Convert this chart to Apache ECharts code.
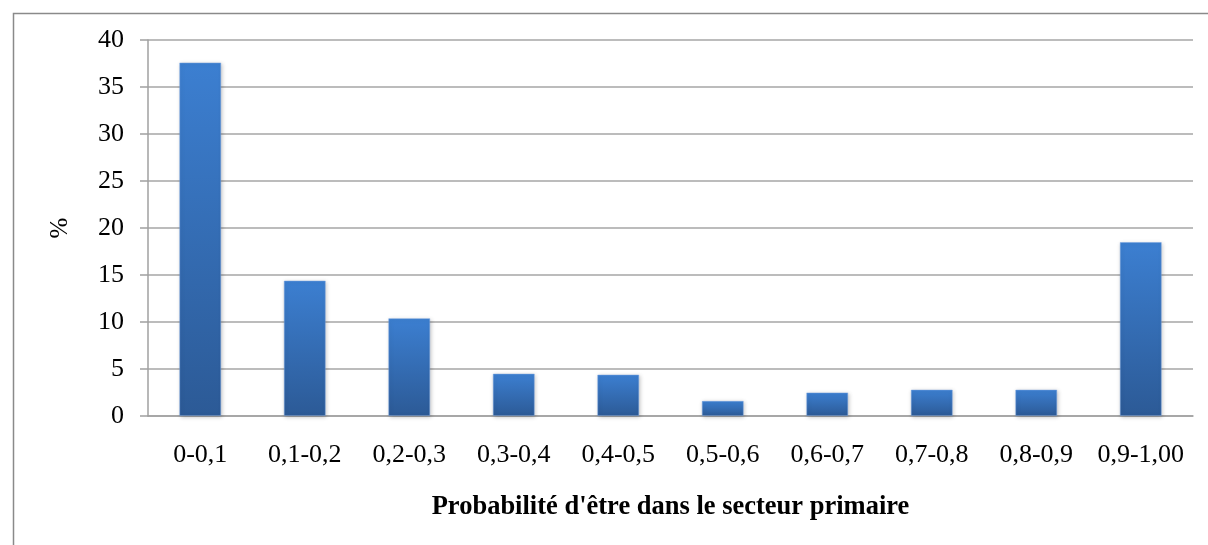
<!DOCTYPE html>
<html>
<head>
<meta charset="utf-8">
<style>
  html, body { margin: 0; padding: 0; background: #ffffff; }
  #chart { width: 1208px; height: 545px; }
</style>
<script src="https://cdn.jsdelivr.net/npm/echarts@6/dist/echarts.min.js"></script>
</head>
<body>
<div id="chart"></div>
<script>
// Probability classes of being in the primary sector
const categories = ['0-0,1', '0,1-0,2', '0,2-0,3', '0,3-0,4', '0,4-0,5', '0,5-0,6', '0,6-0,7', '0,7-0,8', '0,8-0,9', '0,9-1,00'];
// Share of the population in each class (%)
const shares = [37.6, 14.4, 10.4, 4.5, 4.4, 1.6, 2.5, 2.8, 2.8, 18.5];
const yTicks = { min: 0, max: 40, interval: 5 };

const serif = '"Liberation Serif", "Times New Roman", serif';

const chart = echarts.init(document.getElementById('chart'), null, { renderer: 'canvas' });

chart.setOption({
  animation: false,
  backgroundColor: '#ffffff',
  graphic: [{
    type: 'rect',
    left: 11,
    top: 11,
    shape: { width: 1260, height: 600 },
    style: { fill: 'none', stroke: '#8a8a8a', lineWidth: 1.5 },
    silent: true
  }],
  grid: { left: 148, right: 15, top: 40, bottom: 129, containLabel: false },
  xAxis: {
    type: 'category',
    data: categories,
    name: "Probabilité d'être dans le secteur primaire",
    nameLocation: 'middle',
    nameGap: 78,
    nameTextStyle: { fontFamily: serif, fontSize: 26.5, fontWeight: 'bold', color: '#000000' },
    axisLine: { show: true, lineStyle: { color: '#a0a0a0', width: 1.5 } },
    axisTick: { show: false },
    axisLabel: { fontFamily: serif, fontSize: 26, color: '#000000', margin: 26, interval: 0 },
    splitLine: { show: false }
  },
  yAxis: {
    type: 'value',
    min: yTicks.min,
    max: yTicks.max,
    interval: yTicks.interval,
    name: '%',
    nameLocation: 'middle',
    nameRotate: 90,
    nameGap: 75,
    nameTextStyle: { fontFamily: serif, fontSize: 25, color: '#000000' },
    axisLine: { show: true, lineStyle: { color: '#a0a0a0', width: 1.5 } },
    axisTick: { show: true, inside: false, length: 8, lineStyle: { color: '#a0a0a0', width: 1.5 } },
    axisLabel: { fontFamily: serif, fontSize: 26, color: '#000000', margin: 24 },
    splitLine: { show: true, lineStyle: { color: '#a6a6a6', width: 1.5 } }
  },
  series: [{
    type: 'bar',
    data: shares,
    barWidth: '40%',
    itemStyle: {
      color: new echarts.graphic.LinearGradient(0, 0, 0, 1, [
        { offset: 0, color: '#3c7fd1' },
        { offset: 1, color: '#2c5a96' }
      ]),
      borderColor: 'rgba(120,165,225,0.6)',
      borderWidth: 0.8,
      shadowBlur: 4,
      shadowColor: 'rgba(0,0,0,0.22)',
      shadowOffsetX: 1,
      shadowOffsetY: 1
    },
    emphasis: { disabled: true }
  }]
});
</script>
</body>
</html>
